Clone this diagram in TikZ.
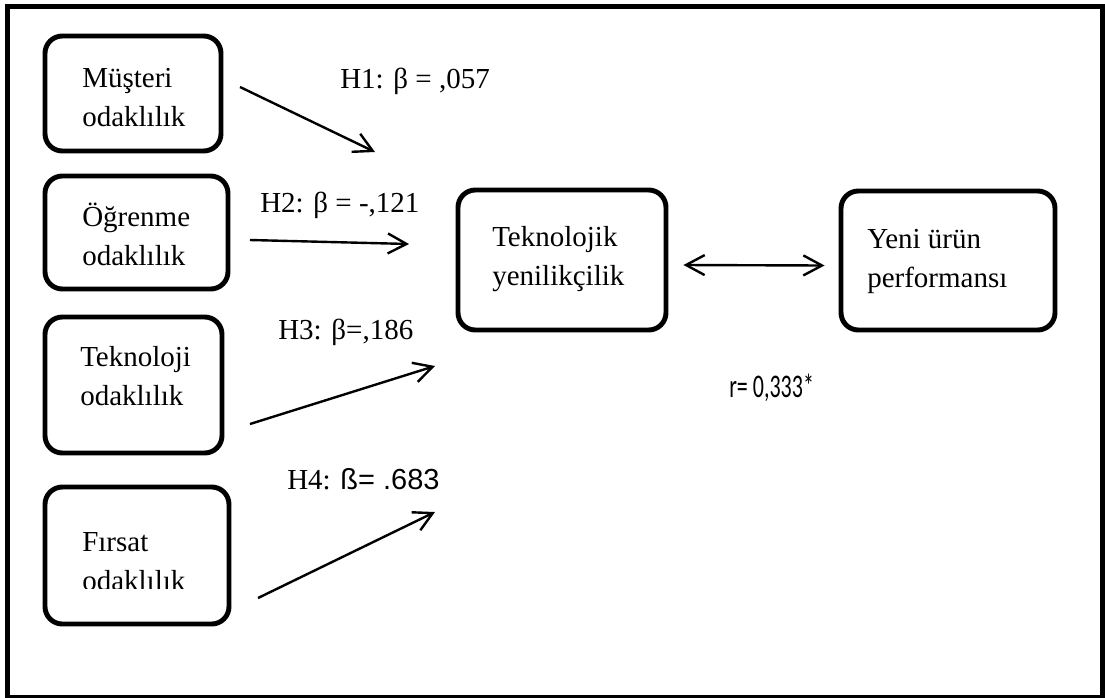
\documentclass[tikz,border=0pt]{standalone}
\usepackage{fontspec}
\setmainfont{Liberation Serif}
\newfontfamily\arialfont{Liberation Sans}
\newfontfamily\calfont{Carlito}
\usetikzlibrary{arrows.meta}
\tikzset{>={Straight Barb[length=14pt,width=15pt]}}
\tikzset{
  kutu/.style={draw, line width=3.7pt, rounded corners=13pt, inner sep=0pt},
  yazi/.style={anchor=base west, align=left, inner sep=0pt,
    font=\fontsize{21.75pt}{28.9pt}\selectfont},
  ok/.style={->, line width=1.8pt}
}

\begin{document}
\begin{tikzpicture}[x=0.75pt,y=-0.75pt]
    \useasboundingbox (0,0) rectangle (1105,697);
    \draw[line width=3.5pt] (7.5,6.5) rectangle (1102.5,697.5);
    % left boxes: name/x1/y1/x2/y2
    \foreach \ad/\xa/\ya/\xb/\yb in {musteri/45/36/221/151,ogrenme/45/176/228/289,
        teknoloji/45/317/222/453,firsat/45/487/229/624} {
        \node[kutu,minimum width={(\xb-\xa)*0.75pt},minimum height={(\yb-\ya)*0.75pt}]
          (\ad) at ({(\xa+\xb)/2},{(\ya+\yb)/2}) {};
      }
    % text: base = last line
    \node[yazi] (musteriyazi) at (82,126) {Müşteri\\odaklılık};
    \node[yazi] (ogrenmeyazi) at (82,265) {Öğrenme\\odaklılık};
    \node[yazi] (teknolojiyazi) at (80,405) {Teknoloji\\odaklılık};
    \begin{scope}
      \clip (firsat.north west) rectangle (firsat.east |- 0,588);
      \node[yazi] (firsatyazi) at (82,590) {Fırsat\\odaklılık};
    \end{scope}
    % middle and right boxes
    \node[kutu,minimum width=156pt,minimum height=105pt] (tekyen) at (562,260) {};
    \node[yazi] (tekyenyazi) at (492,285) {Teknolojik\\yenilikçilik};
    \node[kutu,minimum width=160.5pt,minimum height=104.25pt] (yeniurun) at (948,260.5) {};
    \node[yazi] (yeniurunyazi) at (867,287) {Yeni ürün\\performansı};
    % arrows
    \foreach \i/\xa/\ya/\xb/\yb in {1/240/87/375/152,2/250/240/409/244,
        3/250/424/435/366,4/258/598/435/512} {
        \coordinate (bas\i) at (\xa,\ya);
        \coordinate (uc\i) at (\xb,\yb);
        \draw[ok] (bas\i) -- (uc\i);
      }
    \draw[<->,line width=1.8pt] ([xshift=11.25pt,yshift=-3.75pt]tekyen.east)
      -- ([xshift=-10.5pt,yshift=-3.75pt]yeniurun.west);
    \node[yazi] (h1) at (340,88) {H1: β = ,057};
    \node[yazi] (h2) at (260,212) {H2: β = -,121};
    \node[yazi] (h3) at (278,339) {H3: β=,186};
    \node[yazi] (h4) at (287,489) {H4: {\arialfont ß= .683}};
    \node[yazi,font=\calfont\fontsize{16.5pt}{20pt}\selectfont] (r) at (729,397)
      {\scalebox{1}[1.5]{r= 0,333*}};
  \end{tikzpicture}
\end{document}
